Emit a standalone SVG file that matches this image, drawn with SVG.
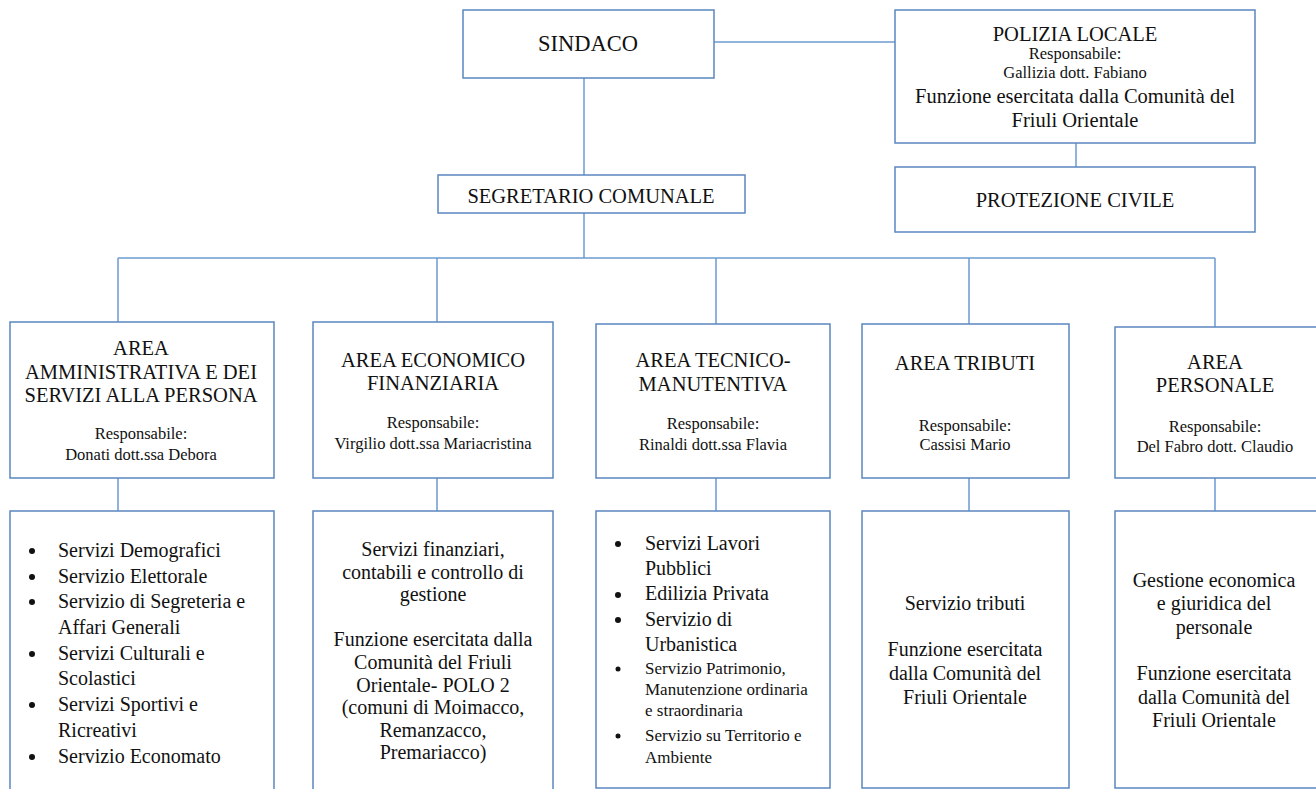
<svg xmlns="http://www.w3.org/2000/svg" width="1316" height="789" viewBox="0 0 1316 789">
<style>
.box{fill:#fff;stroke:#5b87c0;stroke-width:1.5}
.con{fill:none;stroke:#6b9bd1;stroke-width:1.5}
text{font-family:"Liberation Serif","Times New Roman",serif;fill:#111}
.t{font-size:20.5px}
.c{text-anchor:middle}
.s{font-size:16.5px}
.b{font-size:20px}
.sb{font-size:17px}
.dot{fill:#111}
</style>
<rect width="1316" height="789" fill="#fff"/>
<g id="connectors">
<path class="con" d="M714 42H895"/>
<path class="con" d="M1076 143V167"/>
<path class="con" d="M584 78V175"/>
<path class="con" d="M584 213V258"/>
<path class="con" d="M118 258H1215"/>
<path class="con" d="M118 258V322M437 258V322M716 258V324M969 258V324M1215 258V327"/>
<path class="con" d="M118 478V511M437 478V511M716 478V511M969 478V511M1215 478V511"/>
</g>
<g id="sindaco">
<rect class="box" x="463" y="10" width="251" height="68"/>
<text class="c" x="588" y="51" style="font-size:22.5px">SINDACO</text>
</g>
<g id="polizia">
<rect class="box" x="895" y="10" width="360" height="133"/>
<text class="t c" x="1075" y="41">POLIZIA LOCALE</text>
<text class="s c" x="1075" y="59">Responsabile:</text>
<text class="s c" x="1075" y="78">Gallizia dott. Fabiano</text>
<text class="t c" x="1075" y="103">Funzione esercitata dalla Comunità del</text>
<text class="t c" x="1075" y="127">Friuli Orientale</text>
</g>
<g id="protezione">
<rect class="box" x="895" y="167" width="360" height="65"/>
<text class="t c" x="1075" y="207">PROTEZIONE CIVILE</text>
</g>
<g id="segretario">
<rect class="box" x="438" y="175" width="307" height="38"/>
<text class="t c" x="591" y="203">SEGRETARIO COMUNALE</text>
</g>
<g id="area1">
<rect class="box" x="10" y="322" width="264" height="156"/>
<text class="t c" x="141" y="355">AREA</text>
<text class="t c" x="141" y="379">AMMINISTRATIVA E DEI</text>
<text class="t c" x="141" y="402">SERVIZI ALLA PERSONA</text>
<text class="s c" x="141" y="439">Responsabile:</text>
<text class="s c" x="141" y="460">Donati dott.ssa Debora</text>
</g>
<g id="area2">
<rect class="box" x="313" y="322" width="240" height="156"/>
<text class="t c" x="433" y="367">AREA ECONOMICO</text>
<text class="t c" x="433" y="390">FINANZIARIA</text>
<text class="s c" x="433" y="428">Responsabile:</text>
<text class="s c" x="433" y="449">Virgilio dott.ssa Mariacristina</text>
</g>
<g id="area3">
<rect class="box" x="596" y="324" width="234" height="154"/>
<text class="t c" x="713" y="367">AREA TECNICO-</text>
<text class="t c" x="713" y="391">MANUTENTIVA</text>
<text class="s c" x="713" y="429">Responsabile:</text>
<text class="s c" x="713" y="450">Rinaldi dott.ssa Flavia</text>
</g>
<g id="area4">
<rect class="box" x="862" y="324" width="207" height="154"/>
<text class="t c" x="965" y="370">AREA TRIBUTI</text>
<text class="s c" x="965" y="431">Responsabile:</text>
<text class="s c" x="965" y="450">Cassisi Mario</text>
</g>
<g id="area5">
<rect class="box" x="1115" y="327" width="203" height="151"/>
<text class="t c" x="1215" y="369">AREA</text>
<text class="t c" x="1215" y="392">PERSONALE</text>
<text class="s c" x="1215" y="432">Responsabile:</text>
<text class="s c" x="1215" y="452">Del Fabro dott. Claudio</text>
</g>
<g id="servizi1">
<rect class="box" x="10" y="511" width="264" height="290"/>
<circle class="dot" cx="32" cy="551" r="3"/>
<circle class="dot" cx="32" cy="577" r="3"/>
<circle class="dot" cx="32" cy="602" r="3"/>
<circle class="dot" cx="32" cy="654" r="3"/>
<circle class="dot" cx="32" cy="705" r="3"/>
<circle class="dot" cx="32" cy="757" r="3"/>
<text class="b" x="58" y="557">Servizi Demografici</text>
<text class="b" x="58" y="583">Servizio Elettorale</text>
<text class="b" x="58" y="608">Servizio di Segreteria e</text>
<text class="b" x="58" y="634">Affari Generali</text>
<text class="b" x="58" y="660">Servizi Culturali e</text>
<text class="b" x="58" y="685">Scolastici</text>
<text class="b" x="58" y="711">Servizi Sportivi e</text>
<text class="b" x="58" y="737">Ricreativi</text>
<text class="b" x="58" y="763">Servizio Economato</text>
</g>
<g id="servizi2">
<rect class="box" x="313" y="511" width="240" height="290"/>
<text class="b c" x="433" y="556">Servizi finanziari,</text>
<text class="b c" x="433" y="579">contabili e controllo di</text>
<text class="b c" x="433" y="601">gestione</text>
<text class="b c" x="433" y="646">Funzione esercitata dalla</text>
<text class="b c" x="433" y="669">Comunità del Friuli</text>
<text class="b c" x="433" y="692">Orientale- POLO 2</text>
<text class="b c" x="433" y="714">(comuni di Moimacco,</text>
<text class="b c" x="433" y="737">Remanzacco,</text>
<text class="b c" x="433" y="759">Premariacco)</text>
</g>
<g id="servizi3">
<rect class="box" x="596" y="511" width="234" height="277"/>
<circle class="dot" cx="618" cy="544" r="3"/>
<circle class="dot" cx="618" cy="595" r="3"/>
<circle class="dot" cx="618" cy="620" r="3"/>
<circle class="dot" cx="618" cy="669" r="2.5"/>
<circle class="dot" cx="618" cy="736" r="2.5"/>
<text class="b" x="645" y="550">Servizi Lavori</text>
<text class="b" x="645" y="575">Pubblici</text>
<text class="b" x="645" y="600">Edilizia Privata</text>
<text class="b" x="645" y="626">Servizio di</text>
<text class="b" x="645" y="651">Urbanistica</text>
<text class="sb" x="645" y="674">Servizio Patrimonio,</text>
<text class="sb" x="645" y="695">Manutenzione ordinaria</text>
<text class="sb" x="645" y="716">e straordinaria</text>
<text class="sb" x="645" y="741">Servizio su Territorio e</text>
<text class="sb" x="645" y="763">Ambiente</text>
</g>
<g id="servizi4">
<rect class="box" x="862" y="511" width="207" height="277"/>
<text class="b c" x="965" y="610">Servizio tributi</text>
<text class="b c" x="965" y="656">Funzione esercitata</text>
<text class="b c" x="965" y="680">dalla Comunità del</text>
<text class="b c" x="965" y="704">Friuli Orientale</text>
</g>
<g id="servizi5">
<rect class="box" x="1115" y="511" width="203" height="277"/>
<text class="b c" x="1214" y="587">Gestione economica</text>
<text class="b c" x="1214" y="610">e giuridica del</text>
<text class="b c" x="1214" y="634">personale</text>
<text class="b c" x="1214" y="680">Funzione esercitata</text>
<text class="b c" x="1214" y="704">dalla Comunità del</text>
<text class="b c" x="1214" y="727">Friuli Orientale</text>
</g>
</svg>
